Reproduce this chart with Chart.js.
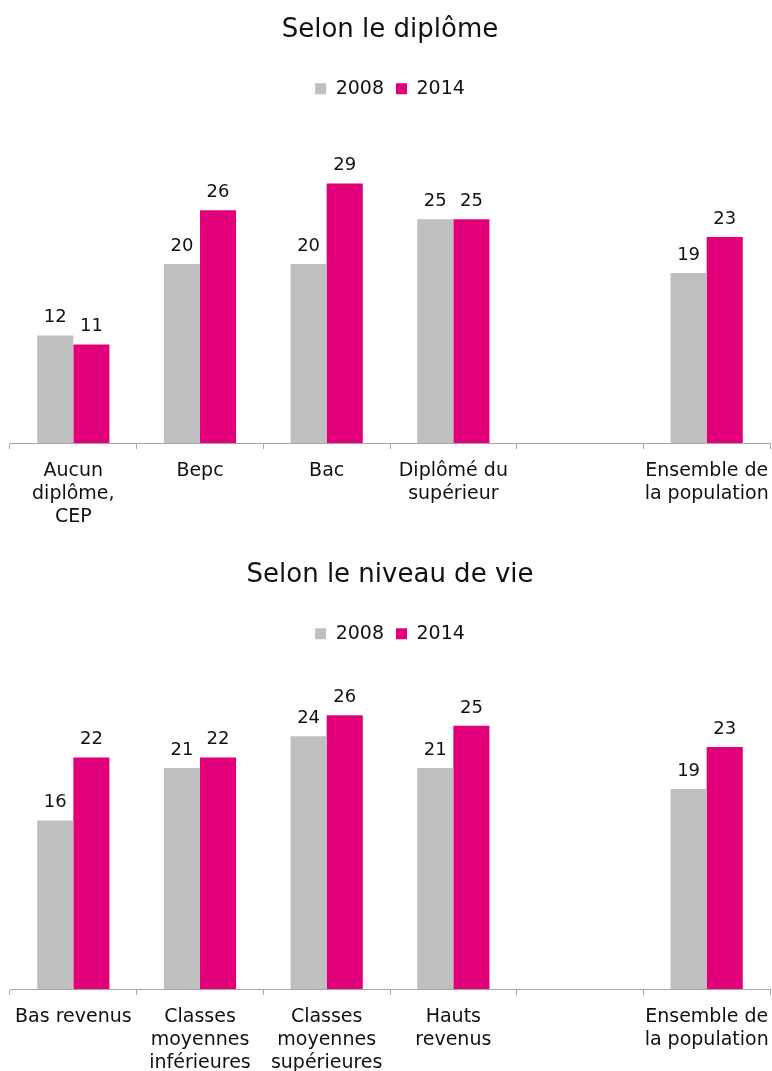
<!DOCTYPE html>
<html>
<head>
<meta charset="utf-8">
<script src="https://cdn.jsdelivr.net/npm/chart.js@4"></script>
<style>
  body { margin: 0; background: #fff; overflow: hidden; }
  .box { position: relative; width: 772px; }
</style>
</head>
<body>
<div class="box" style="height:545px"><canvas id="chartDiplome"></canvas></div>
<div class="box" style="height:543px"><canvas id="chartNiveau"></canvas></div>
<script>
// Data
const seriesNames = ['2008', '2014'];

const diplomeLabels = [['Aucun', 'diplôme,', 'CEP'], 'Bepc', 'Bac', ['Diplômé du', 'supérieur'], '', ['Ensemble de', 'la population']];
const diplome2008 = [12, 20, 20, 25, null, 19];
const diplome2014 = [11, 26, 29, 25, null, 23];

const niveauLabels = ['Bas revenus', ['Classes', 'moyennes', 'inférieures'], ['Classes', 'moyennes', 'supérieures'], ['Hauts', 'revenus'], '', ['Ensemble de', 'la population']];
const niveau2008 = [16, 21, 24, 21, null, 19];
const niveau2014 = [22, 22, 26, 25, null, 23];

const GREY = '#bfbfbf';
const PINK = '#e2007a';
const FONT = '"DejaVu Sans", Verdana, sans-serif';

// draws the value above every bar
const valueLabels = {
    id: 'valueLabels',
    afterDatasetsDraw(chart) {
        const ctx = chart.ctx;
        ctx.save();
        ctx.font = '18px ' + FONT;
        ctx.fillStyle = '#111';
        ctx.textAlign = 'center';
        ctx.textBaseline = 'bottom';
        chart.data.datasets.forEach((ds, i) => {
            chart.getDatasetMeta(i).data.forEach((bar, j) => {
                const v = ds.data[j];
                if (v === null || v === undefined) return;
                ctx.fillText(v, bar.x, bar.y - 9);
            });
        });
        ctx.restore();
    }
};

function makeChart(id, title, labels, a, b, yMax, padBottom) {
    const ctx = document.getElementById(id).getContext('2d');
    return new Chart(ctx, {
        type: 'bar',
        data: {
            labels: labels,
            datasets: [
                { label: seriesNames[0], data: a, backgroundColor: GREY, categoryPercentage: 0.57, barPercentage: 1 },
                { label: seriesNames[1], data: b, backgroundColor: PINK, categoryPercentage: 0.57, barPercentage: 1 }
            ]
        },
        options: {
            responsive: true,
            maintainAspectRatio: false,
            animation: false,
            layout: { padding: { left: 10, right: 2, top: 0, bottom: padBottom } },
            scales: {
                y: { display: false, min: 0, max: yMax },
                x: {
                    // the long last label should not push the axis in
                    afterFit: (scale) => { scale.paddingLeft = 0; scale.paddingRight = 0; },
                    grid: { drawOnChartArea: false, drawTicks: true, tickLength: 6, color: '#a6a6a6' },
                    border: { display: true, color: '#a6a6a6', width: 1 },
                    ticks: {
                        color: '#111',
                        maxRotation: 0,
                        autoSkip: false,
                        padding: 11,
                        font: { family: FONT, size: 19, lineHeight: 1.21 }
                    }
                }
            },
            plugins: {
                title: {
                    display: true,
                    text: title,
                    color: '#111',
                    font: { family: FONT, size: 26, weight: 'normal' },
                    padding: { top: 15, bottom: 21 }
                },
                legend: {
                    display: true,
                    position: 'top',
                    labels: {
                        color: '#111',
                        boxWidth: 11,
                        boxHeight: 11,
                        padding: 12,
                        font: { family: FONT, size: 19 }
                    }
                },
                tooltip: { enabled: false }
            }
        },
        plugins: [valueLabels]
    });
}

makeChart('chartDiplome', 'Selon le diplôme', diplomeLabels, diplome2008, diplome2014, 37.4, 5);
makeChart('chartNiveau', 'Selon le niveau de vie', niveauLabels, niveau2008, niveau2014, 31.9, 2);
</script>
</body>
</html>
